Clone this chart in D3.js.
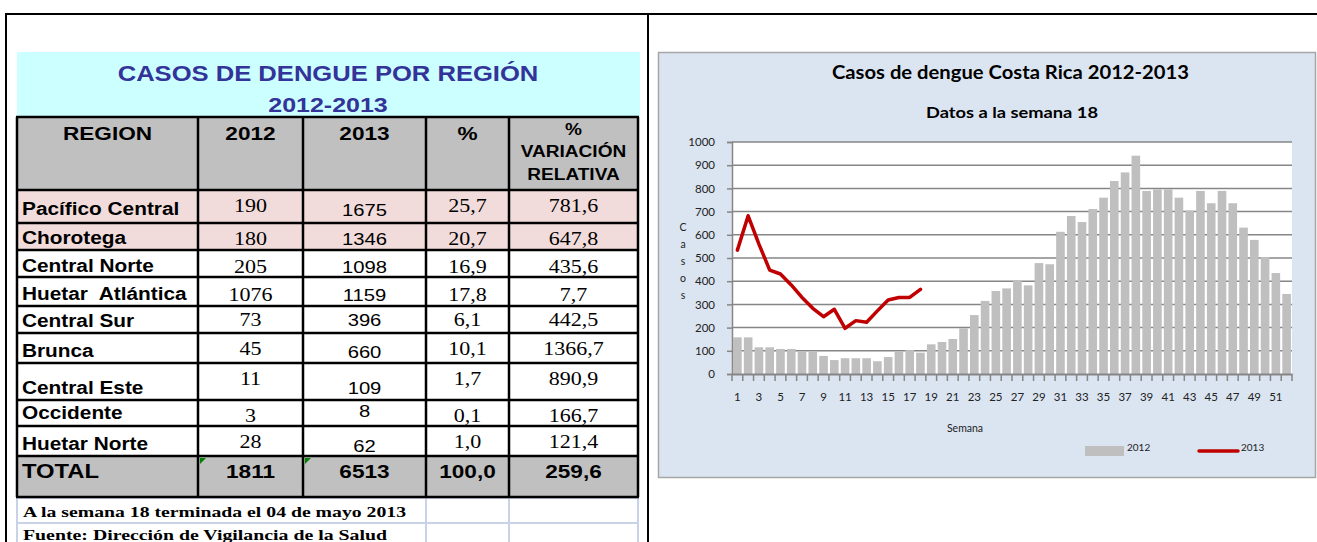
<!DOCTYPE html>
<html>
<head>
<meta charset="utf-8">
<script src="https://cdn.jsdelivr.net/npm/d3@7"></script>
<style>
  body { margin: 0; background: #fff; }
  svg { display: block; }
  text { white-space: pre; }
</style>
</head>
<body>
<script>
// ---- table data ----
const regions = ["Pacífico Central", "Chorotega", "Central Norte", "Huetar  Atlántica", "Central Sur",
                 "Brunca", "Central Este", "Occidente", "Huetar Norte"];
const cases2012 = [190, 180, 205, 1076, 73, 45, 11, 3, 28];
const cases2013 = [1675, 1346, 1098, 1159, 396, 660, 109, 8, 62];
const pctShare = [25.7, 20.7, 16.9, 17.8, 6.1, 10.1, 1.7, 0.1, 1.0];
const pctVariation = [781.6, 647.8, 435.6, 7.7, 442.5, 1366.7, 890.9, 166.7, 121.4];
const totals = [1811, 6513, 100.0, 259.6];
const headers = ["REGION", "2012", "2013", "%"];
const notes = ["A la semana 18 terminada el 04 de mayo 2013", "Fuente: Dirección de Vigilancia de la Salud"];

// ---- weekly chart data ----
const weeks = d3.range(1, 53);
const weekly2012 = [158, 158, 115, 115, 108, 108, 99, 95, 78, 60,
                    68, 68, 68, 55, 73, 99, 103, 92, 128, 138,
                    151, 197, 254, 315, 358, 369, 401, 382, 478, 473,
                    613, 681, 655, 711, 760, 832, 869, 941, 789, 796,
                    796, 760, 705, 789, 736, 789, 736, 631, 578, 504,
                    435, 345];
const weekly2013 = [534, 682, 560, 448, 431, 384, 330, 283, 247, 279,
                    197, 230, 223, 272, 319, 330, 330, 365];
const yTicks = d3.range(0, 1001, 100);

const W = 1317, H = 542;
const svg = d3.select("body").append("svg").attr("width", W).attr("height", H);

// page frame lines
svg.append("line").attr("x1", 6).attr("x2", W).attr("y1", 14).attr("y2", 14).attr("stroke", "#000").attr("stroke-width", 2);
svg.append("line").attr("x1", 6).attr("x2", 6).attr("y1", 13).attr("y2", H).attr("stroke", "#000").attr("stroke-width", 2);
svg.append("line").attr("x1", 648).attr("x2", 648).attr("y1", 13).attr("y2", H).attr("stroke", "#000").attr("stroke-width", 2);

// ================= TABLE =================
const comma = d3.formatLocale({ decimal: ",", thousands: ".", grouping: [3], currency: ["", ""] }).format(".1f");
const SX = 1.19; // text in the sheet is rendered a bit wide
const sans = "'Liberation Sans', Arial, sans-serif";
const serif = "'Liberation Serif', 'Times New Roman', serif";

const tbl = svg.append("g");
function put(x, y, txt, o) {
  const t = tbl.append("text")
    .attr("transform", `translate(${x},${y}) scale(${o.sx || SX},1)`)
    .attr("text-anchor", o.anchor || "middle")
    .attr("font-family", o.family || sans)
    .attr("font-size", o.size || 18)
    .attr("font-weight", o.bold ? "bold" : "normal")
    .attr("fill", o.fill || "#000")
    .text(txt);
  if (o.ls) t.attr("letter-spacing", o.ls);
  return t;
}

const colX = [17, 198, 303, 426, 509, 638];
const rowY = [117, 190, 223, 250, 277, 306, 333, 363, 400, 426, 456, 497];
const colMid = d3.range(5).map(i => (colX[i] + colX[i + 1]) / 2);

// title block
tbl.append("rect").attr("x", 17).attr("y", 52).attr("width", 623).attr("height", 65).attr("fill", "#ccffff");
put(328, 81, "CASOS DE DENGUE POR REGIÓN", { bold: true, size: 21.5, fill: "#333399" });
put(328, 112, "2012-2013", { bold: true, size: 21, fill: "#333399" });

// fills
tbl.append("rect").attr("x", colX[0]).attr("y", rowY[0]).attr("width", colX[5] - colX[0]).attr("height", rowY[1] - rowY[0]).attr("fill", "#c0c0c0");
[0, 1].forEach(i => tbl.append("rect").attr("x", colX[0]).attr("y", rowY[i + 1]).attr("width", colX[5] - colX[0])
  .attr("height", rowY[i + 2] - rowY[i + 1]).attr("fill", "#f2dcdb"));
tbl.append("rect").attr("x", colX[0]).attr("y", rowY[10]).attr("width", colX[5] - colX[0]).attr("height", rowY[11] - rowY[10]).attr("fill", "#c0c0c0");

// note rows (light grid)
const light = "#c9d3e8";
[498, 523].forEach(y => tbl.append("line").attr("x1", colX[0]).attr("x2", colX[5] + 1).attr("y1", y).attr("y2", y).attr("stroke", light).attr("stroke-width", 2));
[colX[0], colX[3], colX[4], colX[5]].forEach(x => tbl.append("line").attr("x1", x).attr("x2", x).attr("y1", 497).attr("y2", H).attr("stroke", light).attr("stroke-width", 2));

// black grid
rowY.forEach(y => tbl.append("line").attr("x1", colX[0] - 1).attr("x2", colX[5] + 1).attr("y1", y).attr("y2", y).attr("stroke", "#000").attr("stroke-width", 2.5));
colX.forEach(x => tbl.append("line").attr("x1", x).attr("x2", x).attr("y1", rowY[0]).attr("y2", rowY[11]).attr("stroke", "#000").attr("stroke-width", 2.5));

// green corner flags
[colX[1], colX[2]].forEach(x => tbl.append("path")
  .attr("d", `M${x + 2},${rowY[10] + 2}h6l-6,6z`).attr("fill", "#008000"));

// header
headers.forEach((h, i) => put(colMid[i], 140, h, { bold: true, size: 19 }));
put(colMid[4], 135, "%", { bold: true, size: 16 });
put(colMid[4], 157, "VARIACIÓN", { bold: true, size: 16 });
put(colMid[4], 180, "RELATIVA", { bold: true, size: 16 });

// body rows
const nameBase = [215, 244, 272, 300, 327, 357, 394, 419, 450];
const serifBase = [212, 245, 273, 301, 326, 355, 385, 422, 448];
const sansBase = [216, 245, 273, 301, 326, 358, 394, 417, 452];
regions.forEach((r, i) => {
  put(22, nameBase[i], r, { bold: true, size: 17.5, anchor: "start" });
  put(colMid[1], serifBase[i], cases2012[i], { family: serif, size: 18.5 });
  put(colMid[2], sansBase[i], cases2013[i], { size: 17 });
  put(colMid[3], serifBase[i], comma(pctShare[i]), { family: serif, size: 18.5 });
  put(colMid[4], serifBase[i], comma(pctVariation[i]), { family: serif, size: 18.5 });
});

// total row
put(22, 478, "TOTAL", { bold: true, size: 20, anchor: "start" });
put(colMid[1], 478, totals[0], { bold: true, size: 19 });
put(colMid[2], 478, totals[1], { bold: true, size: 19 });
put(colMid[3], 478, comma(totals[2]), { bold: true, size: 19 });
put(colMid[4], 478, comma(totals[3]), { bold: true, size: 19 });

// notes
put(23, 517, notes[0], { family: serif, bold: true, size: 14.5, anchor: "start", sx: 1 }).attr("textLength", 383).attr("lengthAdjust", "spacingAndGlyphs");
put(23, 540, notes[1], { family: serif, bold: true, size: 14.5, anchor: "start", sx: 1 }).attr("textLength", 364).attr("lengthAdjust", "spacingAndGlyphs");

// ================= CHART =================
const cfont = "Lato, 'Open Sans', sans-serif";
const chart = svg.append("g").attr("font-family", cfont);
chart.append("rect").attr("x", 658.5).attr("y", 52.5).attr("width", 657).attr("height", 425)
  .attr("fill", "#dbe5f1").attr("stroke", "#a6a6a6").attr("stroke-width", 1.5);

const plot = { left: 732, right: 1292, top: 142, bottom: 374 };
chart.append("rect").attr("x", plot.left).attr("y", plot.top).attr("width", plot.right - plot.left).attr("height", plot.bottom - plot.top).attr("fill", "#fff");

const x = d3.scaleBand().domain(weeks).range([plot.left, plot.right]).paddingInner(0.2).paddingOuter(0.1);
const y = d3.scaleLinear().domain([0, 1000]).range([plot.bottom, plot.top]);

chart.append("text").attr("x", 832).attr("y", 79).attr("font-size", 18).attr("font-weight", "bold")
  .attr("textLength", 357).attr("lengthAdjust", "spacingAndGlyphs").text("Casos de dengue Costa Rica 2012-2013");
chart.append("text").attr("x", 926).attr("y", 118).attr("font-size", 14.5).attr("font-weight", "bold")
  .attr("textLength", 172).attr("lengthAdjust", "spacingAndGlyphs").text("Datos a la semana 18");

// gridlines
chart.append("g").selectAll("line").data(yTicks.filter(d => d > 0)).join("line")
  .attr("x1", plot.left).attr("x2", plot.right).attr("y1", d => y(d)).attr("y2", d => y(d))
  .attr("stroke", "#868686").attr("stroke-width", 1.5);

// y axis
const yAxis = chart.append("g").attr("transform", `translate(${plot.left},0)`)
  .call(d3.axisLeft(y).tickValues(yTicks).tickFormat(d3.format("d")).tickSize(5).tickPadding(12));
yAxis.select(".domain").attr("stroke", "#868686").attr("stroke-width", 1.5);
yAxis.selectAll(".tick line").attr("stroke", "#868686").attr("stroke-width", 1.5);
yAxis.selectAll("text").attr("font-family", cfont).attr("font-size", 11.5).attr("fill", "#222");

// bars 2012
chart.append("g").selectAll("rect").data(weekly2012).join("rect")
  .attr("x", (d, i) => x(weeks[i])).attr("width", x.bandwidth())
  .attr("y", d => y(d)).attr("height", d => y(0) - y(d))
  .attr("fill", "#bfbfbf");

// x axis
const step = x.step();
const xAxis = chart.append("g").attr("transform", `translate(0,${plot.bottom})`)
  .call(d3.axisBottom(x).tickSize(0).tickPadding(19).tickFormat(d => d % 2 === 1 ? d : ""));
xAxis.select(".domain").attr("stroke", "#868686").attr("stroke-width", 2);
xAxis.selectAll("text").attr("font-family", cfont).attr("font-size", 11.5).attr("fill", "#222");
xAxis.selectAll(".bound").data(weeks.concat([53])).join("line")
  .attr("x1", d => x(Math.min(d, 52)) - step * 0.1 + (d === 53 ? step : 0))
  .attr("x2", d => x(Math.min(d, 52)) - step * 0.1 + (d === 53 ? step : 0))
  .attr("y1", 0).attr("y2", 7).attr("stroke", "#868686").attr("stroke-width", 1.5);

// line 2013
const line = d3.line().x((d, i) => x(weeks[i]) + x.bandwidth() / 2).y(d => y(d));
chart.append("path").datum(weekly2013).attr("d", line)
  .attr("fill", "none").attr("stroke", "#c00000").attr("stroke-width", 3.5).attr("stroke-linejoin", "round").attr("stroke-linecap", "round");

// axis titles
chart.append("text").attr("x", 965).attr("y", 432).attr("text-anchor", "middle").attr("font-size", 10.5).attr("fill", "#222").text("Semana");
chart.append("g").selectAll("text").data("Casos".split("")).join("text")
  .attr("x", 683).attr("y", (d, i) => 231 + i * 17).attr("text-anchor", "middle")
  .attr("font-size", 10.5).attr("fill", "#222").text(d => d);

// legend
const lg = chart.append("g").attr("font-size", 10).attr("fill", "#222");
lg.append("rect").attr("x", 1085).attr("y", 446).attr("width", 39).attr("height", 10).attr("fill", "#bfbfbf");
lg.append("text").attr("x", 1127).attr("y", 451).text("2012");
lg.append("line").attr("x1", 1199).attr("x2", 1238).attr("y1", 451).attr("y2", 451).attr("stroke", "#c00000").attr("stroke-width", 3.5).attr("stroke-linecap", "round");
lg.append("text").attr("x", 1241).attr("y", 451).text("2013");
</script>
</body>
</html>
